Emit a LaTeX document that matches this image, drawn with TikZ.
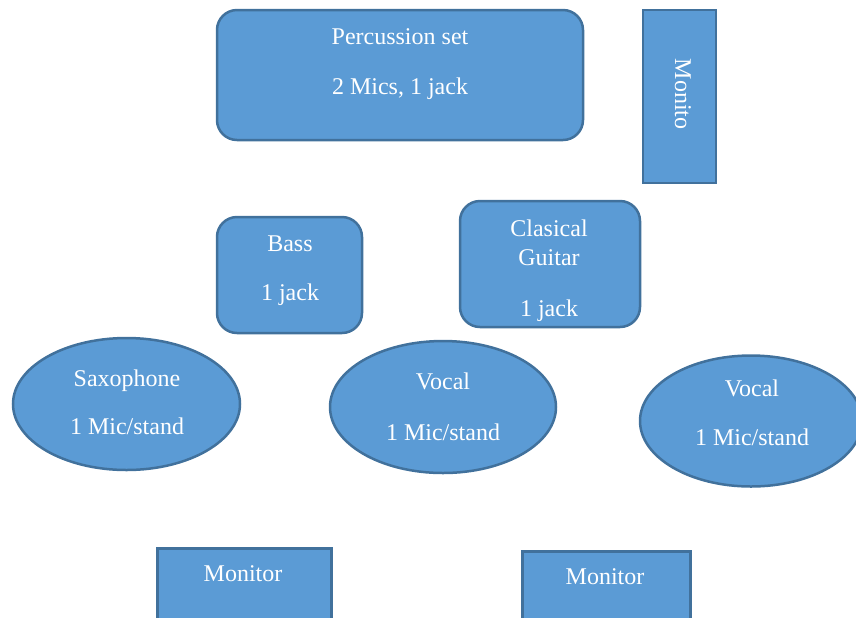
\documentclass[tikz,border=0pt]{standalone}
\usepackage{fontspec}
\setmainfont{Liberation Serif}
\usetikzlibrary{shapes.geometric}
\definecolor{boxfill}{HTML}{5B9BD5}
\definecolor{boxline}{HTML}{41719C}
\tikzset{
  stagebox/.style={draw=boxline, fill=boxfill, line width=1.25pt, inner sep=0pt},
  rbox/.style={stagebox, rounded corners=10pt},
  micoval/.style={stagebox, ellipse},
  lbl/.style={text=white, font=\fontsize{12}{14}\selectfont, anchor=base, inner sep=0pt}
}
\begin{document}
\begin{tikzpicture}[x=0.5pt, y=-0.5pt]
\useasboundingbox (0,0) rectangle (856,617);
\clip (0,0) rectangle (856,617);
\node[rbox, minimum width=183pt, minimum height=65pt] (perc) at (400,75) {};
\node[stagebox, minimum width=36.5pt, minimum height=86.5pt] (mon3) at (679.5,96.5) {};
\node[rbox, minimum width=72.5pt, minimum height=58pt] (bass) at (289.5,275) {};
\node[rbox, minimum width=90pt, minimum height=63pt] (guitar) at (550,264) {};
\node[micoval, minimum width=113.5pt, minimum height=66pt] (sax) at (126.5,404) {};
\node[micoval, minimum width=113pt, minimum height=66pt] (vocal1) at (443,407) {};
\node[micoval, minimum width=111pt, minimum height=65.5pt] (vocal2) at (751,421) {};
\node[stagebox, minimum width=87pt, minimum height=50pt, anchor=north west] (mon1) at (156,547) {};
\node[stagebox, minimum width=84pt, minimum height=50pt, anchor=north west] (mon2) at (521,550) {};

\node[lbl] (percA) at (400,44) {Percussion set};
\node[lbl] (percB) at (400,94) {2 Mics, 1 jack};
\node[lbl, anchor=center, rotate=-90] (mon3t) at (683,94) {Monito};
\node[lbl] (bassA) at (290,251) {Bass};
\node[lbl] (bassB) at (290,300) {1 jack};
\node[lbl] (guitarA) at (549,236) {Clasical};
\node[lbl] (guitarB) at (549,265) {Guitar};
\node[lbl] (guitarC) at (549,316) {1 jack};
\node[lbl] (saxA) at (127,386) {Saxophone};
\node[lbl] (saxB) at (127,434) {1 Mic/stand};
\node[lbl] (vocal1A) at (443,389) {Vocal};
\node[lbl] (vocal1B) at (443,440) {1 Mic/stand};
\node[lbl] (vocal2A) at (752,396) {Vocal};
\node[lbl] (vocal2B) at (752,445) {1 Mic/stand};
\node[lbl] (mon1t) at (243,581) {Monitor};
\node[lbl] (mon2t) at (605,584) {Monitor};
\end{tikzpicture}
\end{document}
